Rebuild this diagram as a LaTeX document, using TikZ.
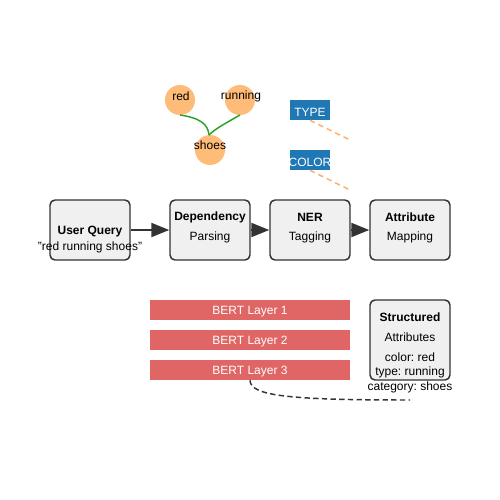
\documentclass[tikz,border=0pt]{standalone}
\usepackage{fontspec}
\setmainfont{Liberation Sans}
\frenchspacing
\usetikzlibrary{arrows.meta}
\definecolor{boxfill}{HTML}{F0F0F0}
\definecolor{boxline}{HTML}{333333}
\definecolor{tblue}{HTML}{1F77B4}
\definecolor{torange}{HTML}{FFBB78}
\definecolor{dorange}{HTML}{FDAE6B}
\definecolor{tgreen}{HTML}{2CA02C}
\definecolor{bertred}{HTML}{E06666}
\tikzset{
  procbox/.style={draw=boxline, fill=boxfill, line width=1.1pt, rounded corners=3.75pt,
    minimum width=60pt, minimum height=45pt, inner sep=0pt},
  outbox/.style={procbox, minimum height=60pt},
  word/.style={circle, fill=torange, minimum size=22.5pt, inner sep=0pt},
  txt/.style={inner sep=0pt, yshift=-1.5pt, font=\fontsize{9pt}{10pt}\selectfont\frenchspacing, text=black},
  btxt/.style={txt, font=\fontsize{9pt}{10pt}\selectfont\bfseries},
  wtxt/.style={txt, text=white},
  tagbox/.style={fill=tblue, minimum width=30pt, minimum height=15pt, inner sep=0pt},
  bertbox/.style={fill=bertred, minimum width=150pt, minimum height=15pt, inner sep=0pt},
  flow/.style={draw=boxline, line width=1.5pt, -{Triangle[length=13.5pt,width=10.5pt]}},
  dep/.style={draw=tgreen, line width=1.1pt},
  tagline/.style={draw=dorange, line width=1.1pt, dash pattern=on 4pt off 3pt},
  linkline/.style={draw=boxline, line width=1.1pt, dash pattern=on 4pt off 2.5pt}
}
\begin{document}
\begin{tikzpicture}[x=0.75pt, y=-0.75pt]
\useasboundingbox (0,0) rectangle (500,500);
% dependency tree
\node[word] (red) at (180,100) {};
\node[word] (run) at (240,100) {};
\node[word] (sho) at (210,150) {};
\node[txt] (tred) at (181,94) {red};
\node[txt] (trun) at (241,94) {running};
\node[txt] (tsho) at (210,143) {shoes};
\coordinate (redb) at (180,115);
\coordinate (runb) at (240,115);
\coordinate (shot) at (209,135);
\draw[dep] (redb) .. controls (200,118) and (208,124) .. (shot);
\draw[dep] (runb) .. controls (228,122) and (216,128) .. (shot);
% tags
\node[tagbox] (type) at (310,110) {};
\node[wtxt] (ttype) at (310,110) {TYPE};
\node[tagbox] (color) at (310,160) {};
\node[wtxt] (tcolor) at (310,160) {COLOR};
\coordinate (typeend) at (350,140);
\coordinate (colorend) at (350,190);
\draw[tagline] (type.south) -- (typeend);
\draw[tagline] (color.south) -- (colorend);
% pipeline
\node[procbox] (uq) at (90,230) {};
\node[procbox] (dp) at (210,230) {};
\node[procbox] (ner) at (310,230) {};
\node[procbox] (am) at (410,230) {};
\node[btxt] (uq1) at (90,230) {User Query};
\node[txt] (uq2) at (90,245) {"red running shoes"};
\node[btxt] (dp1) at (210,215) {Dependency};
\node[txt] (dp2) at (210,235) {Parsing};
\node[btxt] (ner1) at (310,215) {NER};
\node[txt] (ner2) at (310,235) {Tagging};
\node[btxt] (am1) at (410,215) {Attribute};
\node[txt] (am2) at (410,235) {Mapping};
\draw[flow] (uq.east) -- (dp.west);
\draw[flow] (dp.east) -- (ner.west);
\draw[flow] (ner.east) -- (am.west);
% BERT layers
\node[bertbox] (b1) at (250,310) {};
\node[bertbox] (b2) at (250,340) {};
\node[bertbox] (b3) at (250,370) {};
\node[wtxt] (tb1) at (250,310) {BERT Layer 1};
\node[wtxt] (tb2) at (250,340) {BERT Layer 2};
\node[wtxt] (tb3) at (250,370) {BERT Layer 3};
% structured output
\node[outbox] (sa) at (410,340) {};
\node[btxt] (sa1) at (410,315) {Structured};
\node[txt] (sa2) at (410,335) {Attributes};
\node[txt] (sa3) at (410,355) {color: red};
\node[txt] (sa4) at (410,370) {type: running};
\node[txt] (sa5) at (410,385) {category: shoes};
\coordinate (linkend) at (410,400);
\draw[linkline] (b3.south) .. controls (250,396) and (290,400) .. (linkend);
\end{tikzpicture}
\end{document}
